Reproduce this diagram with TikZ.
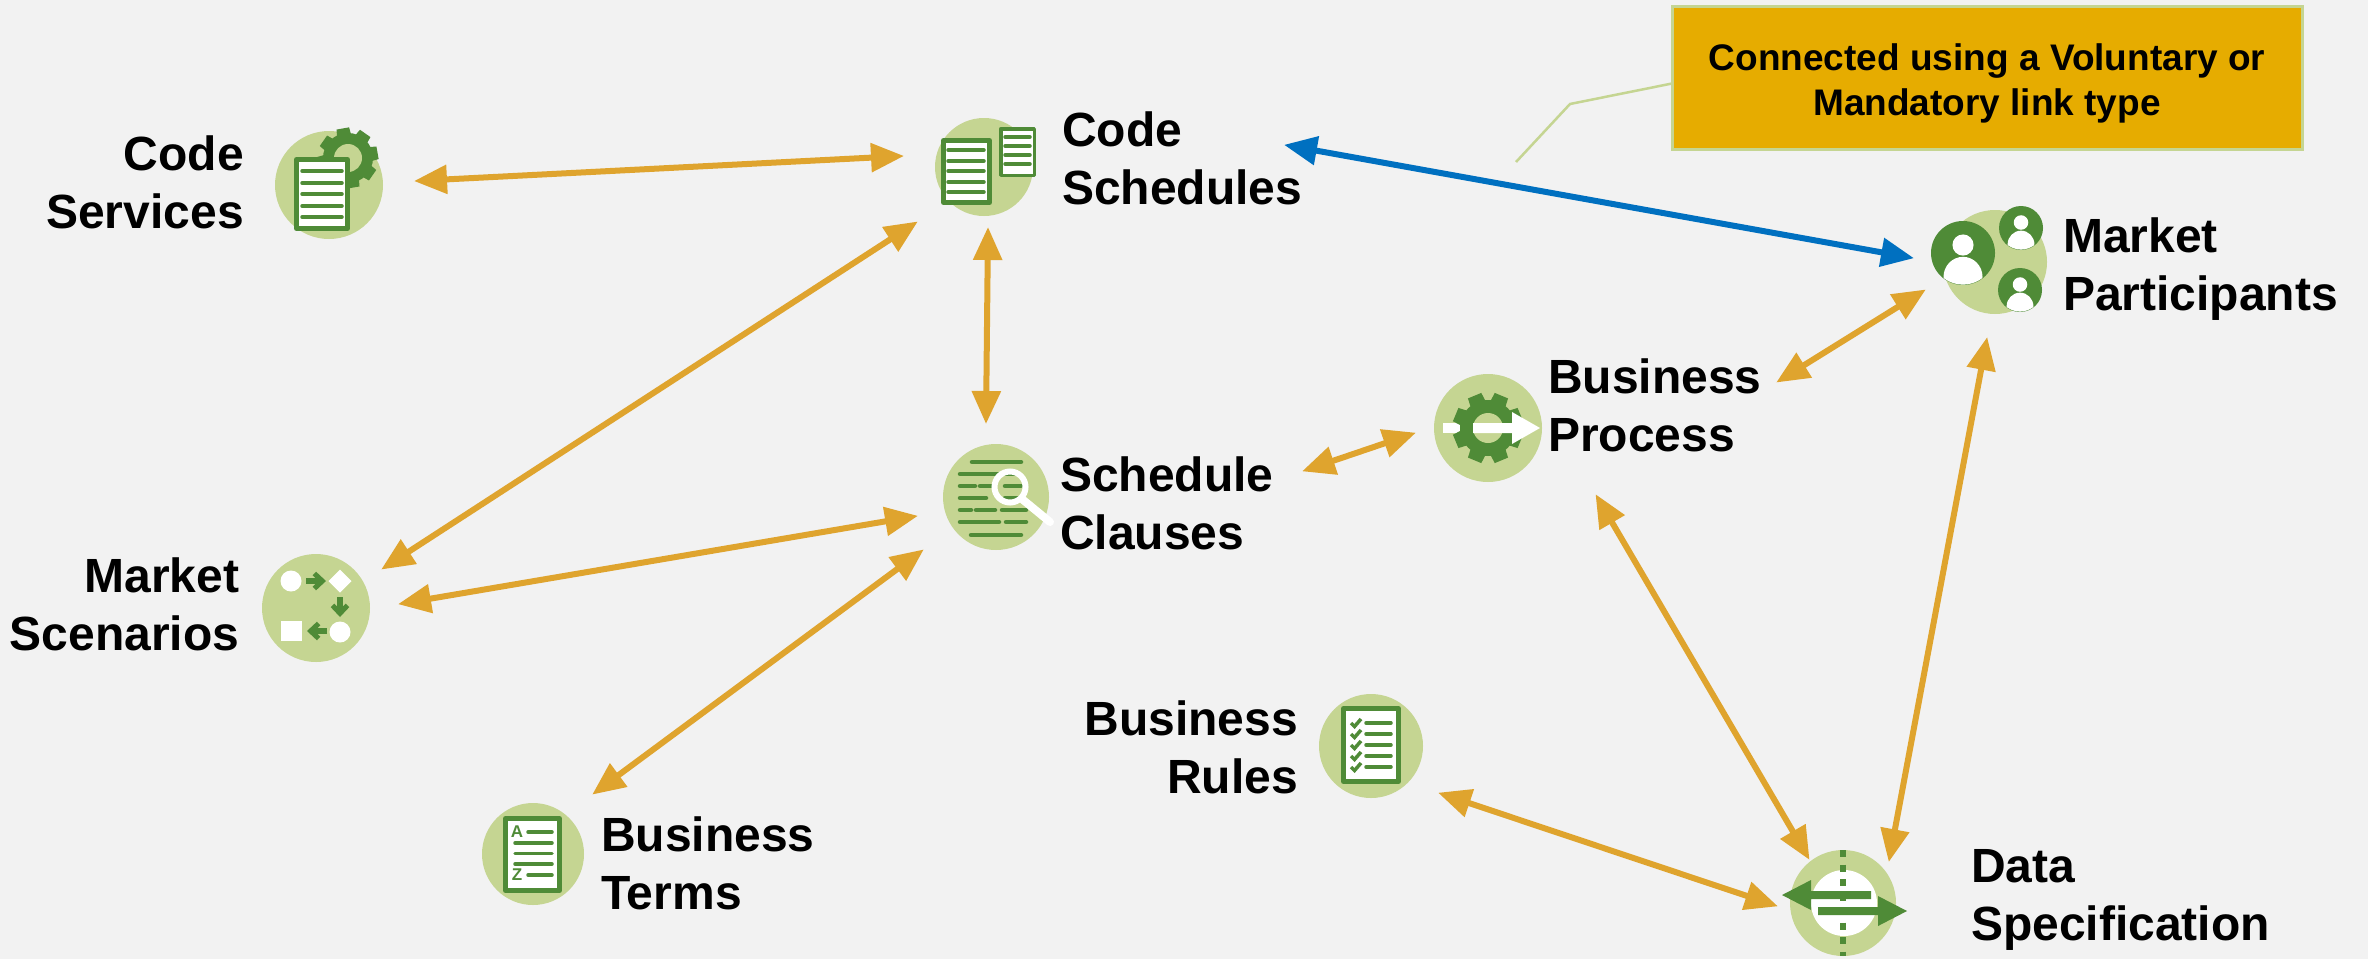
\documentclass[tikz,border=0pt]{standalone}
\usepackage{fontspec}
\setmainfont{Liberation Sans}
\usetikzlibrary{arrows.meta}
\definecolor{bgc}{HTML}{F2F2F2}
\definecolor{lgreen}{HTML}{C5D592}
\definecolor{dgreen}{HTML}{4F8B37}
\definecolor{goldc}{HTML}{DFA42E}
\definecolor{bluec}{HTML}{0070C0}
\definecolor{boxc}{HTML}{E6AC00}
\tikzset{
  icon/.style={circle,fill=lgreen,minimum size=#1,inner sep=0pt,outer sep=0pt},
  lab/.style={font=\fontsize{48}{58}\selectfont\bfseries,inner sep=0pt,text=black},
  labl/.style={lab,align=left,anchor=west},
  labr/.style={lab,align=right,anchor=east},
  link/.style={draw=goldc,line width=6pt,{Triangle[length=33pt,width=28pt]}-{Triangle[length=33pt,width=28pt]},shorten <=-1pt,shorten >=-1pt},
  bluelink/.style={link,draw=bluec},
  gline/.style={draw=dgreen,line width=4.5pt,line cap=round},
  sline/.style={draw=dgreen,line width=3.5pt,line cap=round},
  glyph/.style={font=\fontsize{17}{17}\selectfont\bfseries,text=dgreen,inner sep=0pt},
  flow/.style={draw=dgreen,line width=6pt,-{Straight Barb[length=8pt,width=15pt,line width=5pt]}},
}
\newcommand{\paperdoc}[5]{\draw[dgreen,fill=white,line width=#5pt,line join=round] (#1+#5/2,#2+#5/2) rectangle (#3-#5/2,#4-#5/2);}
\newcommand{\cog}[6]{%
  \fill[dgreen] (#1,#2) circle (#4);
  \foreach \a in {0,45,...,315}{
    \fill[dgreen,rotate around={\a+#6:(#1,#2)}] (#1-#5*1.15,#2) -- (#1-#5*0.8,#2-#3) -- (#1+#5*0.8,#2-#3) -- (#1+#5*1.15,#2) -- cycle;
  }}
\newcommand{\person}[3]{%
  \fill[dgreen] (#1,#2) circle (#3);
  \fill[white] (#1,#2-0.25*#3) circle (0.33*#3);
  \begin{scope}
    \clip (#1,#2) circle (#3-0.4);
    \fill[white] (#1,#2+0.75*#3) ellipse (0.61*#3 and 0.63*#3);
  \end{scope}}
\begin{document}
\begin{tikzpicture}[x=1pt,y=-1pt]
\fill[bgc] (0,0) rectangle (2368,959);
\useasboundingbox (0,0) rectangle (2368,959);

% icon discs
\node[icon=108pt] (svc) at (329,185) {};
\node[icon=98pt]  (sch) at (984,167) {};
\node[icon=104pt] (part) at (1995,262) {};
\node[icon=108pt] (proc) at (1488,428) {};
\node[icon=106pt] (cla) at (996,497) {};
\node[icon=108pt] (scn) at (316,608) {};
\node[icon=106pt] (data) at (1843,903) {};
\node[icon=104pt] (rule) at (1371,746) {};
\node[icon=102pt] (term) at (533,854) {};

% Code Services glyph
\cog{348}{158}{30}{25}{8}{10}
\fill[lgreen] (348,158) circle (14);
\paperdoc{294}{157}{350}{231}{5}
\foreach \y in {171,183,194,206,217} \draw[sline] (302,\y) -- (342,\y);

% Code Schedules glyph
\paperdoc{941}{138}{992}{205}{5}
\foreach \y in {150,161,171,182,192} \draw[sline] (948,\y) -- (984,\y);
\paperdoc{999}{127}{1036}{177}{3.5}
\foreach \y in {137,146,155,164} \draw[sline] (1005,\y) -- (1030,\y);

% Market Participants glyph
\person{1963}{253}{32}
\person{2021}{228}{22}
\person{2020}{290}{22}

% Business Process glyph
\fill[white] (1443,423) rectangle (1465,433);
\cog{1488}{428}{35}{28}{9}{22.5}
\fill[lgreen] (1488,428) circle (15);
\fill[white] (1473,423) -- (1512,423) -- (1512,412) -- (1540,428) -- (1512,444) -- (1512,433) -- (1473,433) -- cycle;

% Schedule Clauses glyph
\draw[gline] (972,462) -- (1021,462);
\draw[gline] (960,474) -- (1018,474);
\draw[gline] (960,486) -- (975,486) (980,486) -- (992,486) (1005,486) -- (1021,486);
\draw[gline] (960,498) -- (986,498) (1005,498) -- (1021,498);
\draw[gline] (960,510) -- (971,510) (976,510) -- (995,510) (1002,510) -- (1026,510);
\draw[gline] (960,522) -- (999,522) (1006,522) -- (1026,522);
\draw[gline] (971,535) -- (1021,535);
\draw[white,line width=6pt] (1010,487) circle (15.5);
\draw[white,line width=8pt,line cap=round] (1022,499) -- (1050,522);

% Market Scenarios glyph
\fill[white] (291,581) circle (10.5);
\fill[white] (340,569.5) -- (351.5,581) -- (340,592.5) -- (328.5,581) -- cycle;
\fill[white] (340,632) circle (10.5);
\fill[white] (281,621) rectangle (302,641);
\draw[flow] (306,581) -- (326,581);
\draw[flow] (340,597) -- (340,617);
\draw[flow] (327,631) -- (307,631);

% Data Specification glyph
\fill[white] (1844,903) circle (33);
\draw[dgreen,line width=6pt,dash pattern=on 7pt off 7.5pt] (1843,850) -- (1843,956);
\fill[dgreen] (1871,891) -- (1811,891) -- (1811,880) -- (1782,895) -- (1811,910) -- (1811,899) -- (1871,899) -- cycle;
\fill[dgreen] (1818,907) -- (1878,907) -- (1878,896) -- (1907,911) -- (1878,926) -- (1878,915) -- (1818,915) -- cycle;

% Business Rules glyph
\paperdoc{1341}{706}{1401}{784}{5}
\foreach \y in {723,734,745,756,767}{
  \draw[dgreen,line width=3.5pt] (1351,\y) -- (1354.5,\y+3.5) -- (1361,\y-4);
  \draw[sline] (1366,\y) -- (1391,\y);
}

% Business Terms glyph
\paperdoc{503}{816}{562}{893}{5}
\node[glyph] (la) at (517,832) {A};
\node[glyph] (lz) at (517,875) {Z};
\draw[sline] (528,832) -- (552,832);
\draw[sline] (515,843) -- (552,843);
\draw[sline] (515,853.5) -- (552,853.5);
\draw[sline] (515,864) -- (552,864);
\draw[sline] (528,875) -- (552,875);

% labels
\node[labr] (tsvc) at (244,182.5) {Code\\Services};
\node[labl] (tsch) at (1062,158.5) {Code\\Schedules};
\node[labl] (tpart) at (2063,269.5) {Market\\Participants};
\node[labl] (tproc) at (1548,405.5) {Business\\Process};
\node[labl] (tcla) at (1060,503) {Schedule\\Clauses};
\node[labr] (tscn) at (239.5,604.5) {Market\\Scenarios};
\node[labr] (trule) at (1298,747) {Business\\Rules};
\node[labl] (tterm) at (601,863.5) {Business\\Terms};
\node[labl] (tdata) at (1971,900) {Data\\Specification};

% callout box
\node[draw=lgreen,fill=boxc,line width=3pt,minimum width=630pt,minimum height=143pt,inner sep=0pt,outer sep=0pt,align=center,font=\fontsize{37}{45}\selectfont\bfseries,text=black] (box) at (1987,77.5) {\rule{0pt}{38pt}Connected using a Voluntary or\\Mandatory link type};
\coordinate (elbow) at (1570,104);
\coordinate (tail) at (1516,162);
\draw[lgreen,line width=2.5pt] ([shift={(0,6)}]box.west) -- (elbow) -- (tail);

% connectors
\draw[link] ([shift={(86,-4)}]svc.center) -- ([shift={(-81,-11)}]sch.center);
\draw[link] ([shift={(-67,55)}]sch.center) -- ([shift={(66,-39)}]scn.center);
\draw[link] ([shift={(4,61)}]sch.center) -- ([shift={(-10,-74)}]cla.center);
\draw[link] ([shift={(-79,19)}]cla.center) -- ([shift={(83,-4)}]scn.center);
\draw[link] ([shift={(-73,53)}]cla.center) -- ([shift={(60,-60)}]term.center);
\draw[link] ([shift={(307,-26)}]cla.center) -- ([shift={(-73,5)}]proc.center);
\draw[link] ([shift={(289,-46)}]proc.center) -- ([shift={(-70,28)}]part.center);
\draw[bluelink] ([shift={(301,-22)}]sch.center) -- ([shift={(-82,-4)}]part.center);
\draw[link] ([shift={(-8,76)}]part.center) -- ([shift={(46,-42)}]data.center);
\draw[link] ([shift={(108,67)}]proc.center) -- ([shift={(-34,-44)}]data.center);
\draw[link] ([shift={(68,47)}]rule.center) -- ([shift={(-66,3)}]data.center);
\end{tikzpicture}
\end{document}
